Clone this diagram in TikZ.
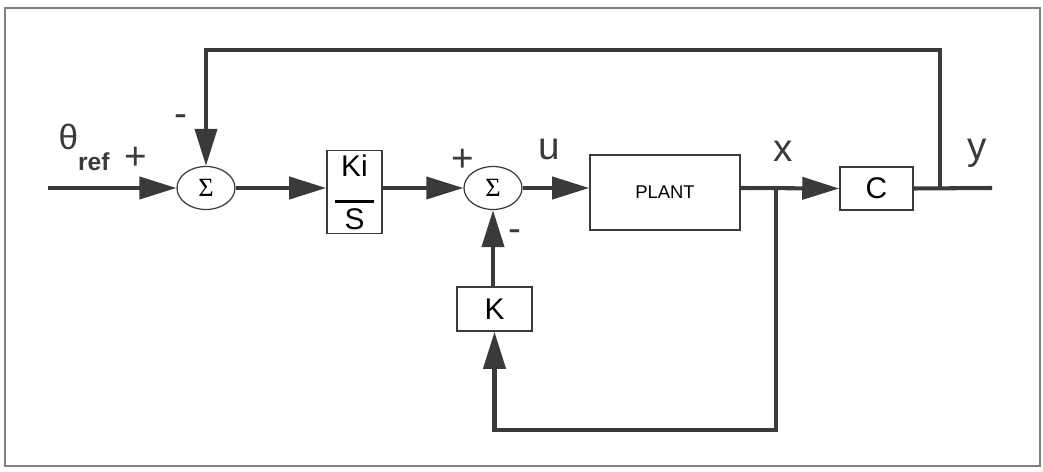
\documentclass[tikz,border=0pt]{standalone}
\usepackage{fontspec}
\setmainfont{Liberation Sans}
\newfontfamily\sigmafont{Liberation Serif}
\usepackage{tikz}
\usetikzlibrary{arrows.meta,positioning,shapes.geometric}
\definecolor{ink}{HTML}{3A3A3A}
\newcommand{\lbl}{\fontsize{17}{20}\selectfont}
\newcommand{\biglbl}{\fontsize{22}{24}\selectfont}

\begin{document}
\begin{tikzpicture}[x=0.02cm, y=-0.02cm,
  blk/.style={draw=ink, line width=0.9pt, fill=white, inner sep=0pt,
              align=center, font=\lbl},
  sum/.style={draw=ink, ellipse, line width=0.7pt, minimum width=1.16cm,
              minimum height=0.86cm, inner sep=0pt, font=\sigmafont\fontsize{15}{16}\selectfont},
  sig/.style={draw=ink, line width=2.3pt},
  arr/.style={sig, -{Triangle[length=0.74cm, width=0.44cm]}},
  txt/.style={inner sep=0pt, text=ink, font=\lbl}
]
% frame and margins
\useasboundingbox (0,0) rectangle (1043,472);
\draw[gray, line width=1pt] (5,8) rectangle (1040,466);

% blocks
\node[sum] (s1) at (206,188) {Σ};
\node[blk, minimum width=1.1cm, minimum height=1.66cm] (kis) at (354.5,192)
     {Ki\\[-5pt]\rule{0.78cm}{1.6pt}\\[-5pt]S};
\node[sum] (s2) at (493,188) {Σ};
\node[blk, minimum width=3.0cm, minimum height=1.5cm, font=\fontsize{10.5}{12}\selectfont] (plant)
     at (665,192.5) {PLANT};
\node[blk, minimum width=1.46cm, minimum height=0.86cm] (cblk) at (876.5,188.5) {C};
\node[blk, minimum width=1.5cm, minimum height=0.88cm] (kblk) at (494.5,309) {K};

% branch points
\coordinate (in) at (48,188);
\coordinate (tx) at (776,188);
\coordinate (ty) at (940,188);
\coordinate (out) at (992,188);
\coordinate (top) at (940,50);
\coordinate (bot) at (776,430);

% forward path
\draw[arr] (in) -- (s1.west);
\draw[arr] (s1.east) -- (s1.east -| kis.west);
\draw[arr] (s2.west -| kis.east) -- (s2.west);
\draw[arr] (s2.east) -- (s2.east -| plant.west);
\draw[arr] (plant.east |- tx) -- (cblk.west);
\draw[sig] (cblk.east) -- (out);

% feedback paths
\draw[arr] (ty) -- (top) -| (s1.north);
\draw[arr] (tx) -- (bot) -| (kblk.south);
\draw[arr] (kblk.north -| s2.south) -- (s2.south);

% labels
\node[txt] (theta) at (84,147) {\fontsize{20}{22}\selectfont θ\raisebox{-12pt}{\fontsize{14}{15}\selectfont\bfseries ref}};
\node[txt, font=\biglbl] (p1) at (136,158) {+};
\node[txt, font=\biglbl] (m1) at (181,121) {-};
\node[txt, font=\biglbl] (p2) at (463,160) {+};
\node[txt, font=\biglbl] (u) at (549,149) {u};
\node[txt, font=\biglbl] (m2) at (515,236) {-};
\node[txt, font=\biglbl] (x) at (783,151) {x};
\node[txt, font=\biglbl] (y) at (977,153) {y};
\end{tikzpicture}
\end{document}
